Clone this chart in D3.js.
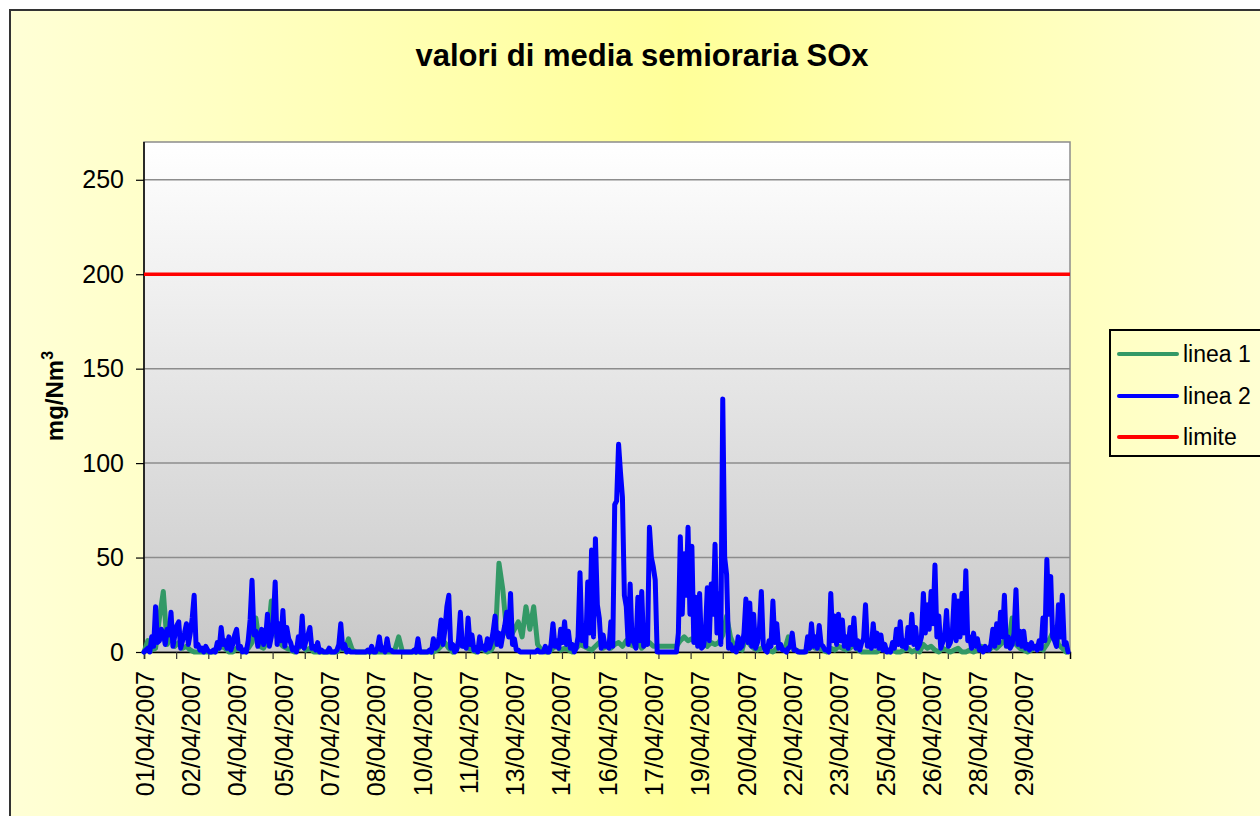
<!DOCTYPE html>
<html>
<head>
<meta charset="utf-8">
<script src="https://cdn.jsdelivr.net/npm/d3@7"></script>
<style>
  html, body { margin: 0; padding: 0; background: #ffffff; }
  svg { display: block; font-family: "Liberation Sans", Arial, sans-serif; }
</style>
</head>
<body>
<svg id="chart" width="1260" height="816"></svg>
<script>
// ---------------- DATA ----------------
const chartTitle = "valori di media semioraria SOx";
const seriesNames = ["linea 1", "linea 2", "limite"];
const totalCategories = 1440;   // 30 days of semi-hourly categories
const stepLinea1 = 6;           // linea 1 read every 3 hours
const stepLinea2 = 3;           // linea 2 read every 1.5 hours

// linea 1 (green), one value every 3 hours
const linea1 = [
  0,6,1,2,18,32,4,8,3,5,2,3,1,0,0,0,0,0,0,1,
  3,2,0,0,2,1,0,2,5,18,3,2,6,27,10,5,3,2,1,0,
  2,4,1,2,0,0,0,0,0,0,0,2,1,7,1,0,0,0,0,0,
  0,0,0,0,0,1,8,0,0,0,0,0,0,0,0,0,1,3,5,2,
  0,2,4,3,2,1,0,2,1,0,1,5,47,33,10,8,12,16,8,24,
  12,24,4,1,0,0,2,3,1,2,1,0,2,4,3,2,1,3,5,2,
  3,2,4,5,3,6,4,3,5,2,4,5,3,3,3,3,3,3,3,6,
  8,6,7,5,4,6,3,5,4,5,9,19,8,3,2,1,8,4,2,1,
  2,3,1,0,2,3,1,8,2,1,0,0,1,3,2,2,1,0,2,1,
  3,2,1,2,4,1,0,0,0,0,0,2,1,0,1,0,0,1,2,0,
  1,0,4,2,3,1,0,2,1,0,1,2,0,0,1,0,1,3,2,1,
  3,2,4,6,3,18,4,2,1,0,1,3,2,1,4,8,13,4,2,0
];

// linea 2 (blue), one value every 1.5 hours
const linea2 = [
  0,1,2,0,8,3,24,5,6,12,10,4,12,9,21,3,9,14,16,2,
  6,10,15,4,10,18,30,3,4,1,2,0,3,1,0,0,1,0,5,2,
  13,4,6,2,8,1,4,9,12,2,3,0,1,0,6,17,38,9,11,3,
  8,12,4,7,20,3,8,16,37,4,15,6,22,3,13,7,5,1,2,0,
  8,3,19,2,6,9,13,2,3,1,5,0,1,0,0,0,2,0,0,0,
  1,4,15,2,4,0,1,0,0,0,0,0,0,0,0,0,1,0,3,0,
  0,2,8,1,2,0,7,1,1,0,0,0,0,0,0,0,0,0,0,0,
  1,0,7,0,0,0,0,0,1,0,7,2,3,8,17,4,12,24,30,2,
  4,0,1,6,21,3,6,2,18,4,9,1,2,0,8,2,3,1,7,2,
  5,11,19,4,10,3,9,14,21,8,31,4,7,1,1,0,0,0,0,0,
  0,0,0,0,1,0,0,0,3,0,0,4,15,3,6,2,12,5,16,4,
  11,2,4,0,2,8,42,6,14,3,37,10,54,8,60,25,18,2,9,3,
  4,2,16,3,78,80,110,95,82,30,24,4,36,6,5,2,29,6,32,3,
  8,4,66,50,45,38,0,0,0,0,0,0,0,0,0,0,0,10,61,20,
  52,30,66,20,56,5,29,3,31,2,3,10,34,6,36,20,57,10,31,4,
  134,50,41,2,4,1,2,0,8,2,3,10,28,5,26,3,20,2,5,12,
  32,4,1,0,6,3,27,5,15,2,4,1,1,0,2,3,10,1,1,0,
  0,0,0,0,8,2,15,3,8,2,14,4,3,1,1,0,31,6,19,4,
  20,6,17,3,8,2,13,4,18,2,6,1,5,7,25,3,6,2,15,3,
  10,2,9,1,4,0,1,0,5,2,12,4,16,3,6,2,13,5,20,4,
  13,2,4,8,31,10,25,12,32,15,46,8,19,2,5,8,22,3,5,10,
  30,6,27,8,31,10,43,6,8,2,10,3,7,1,2,0,3,1,1,4,
  12,3,15,5,21,8,30,3,8,2,4,10,33,4,11,3,11,2,4,1,
  5,2,3,1,6,2,18,6,49,20,40,8,6,3,25,8,30,4,5,0
];

const limiteValue = 200;

// category axis labels (every 72 categories = 1.5 days)
const xLabels = ["01/04/2007","02/04/2007","04/04/2007","05/04/2007","07/04/2007",
  "08/04/2007","10/04/2007","11/04/2007","13/04/2007","14/04/2007","16/04/2007",
  "17/04/2007","19/04/2007","20/04/2007","22/04/2007","23/04/2007","25/04/2007",
  "26/04/2007","28/04/2007","29/04/2007"];
const xLabelInterval = 72;
const xTickInterval = 50;
const yTicks = [0, 50, 100, 150, 200, 250];
const yMax = 270;

// ---------------- LAYOUT ----------------
const svg = d3.select("#chart");
const plot = { left: 144, right: 1070, top: 142, bottom: 652 };

const defs = svg.append("defs");
const bgGrad = defs.append("linearGradient").attr("id", "bgGrad")
  .attr("x1", "0").attr("y1", "0").attr("x2", "1").attr("y2", "0");
bgGrad.append("stop").attr("offset", "0").attr("stop-color", "#ffffd6");
bgGrad.append("stop").attr("offset", "0.52").attr("stop-color", "#ffff99");
bgGrad.append("stop").attr("offset", "1").attr("stop-color", "#ffffd6");

const plotGrad = defs.append("linearGradient").attr("id", "plotGrad")
  .attr("x1", "0").attr("y1", "0").attr("x2", "0").attr("y2", "1");
plotGrad.append("stop").attr("offset", "0").attr("stop-color", "#ffffff");
plotGrad.append("stop").attr("offset", "1").attr("stop-color", "#c9c9c9");

// chart area
svg.append("rect").attr("x", 10).attr("y", 10).attr("width", 1290).attr("height", 840)
  .attr("fill", "url(#bgGrad)").attr("stroke", "#333333").attr("stroke-width", 2);

// plot area
svg.append("rect").attr("x", plot.left).attr("y", plot.top)
  .attr("width", plot.right - plot.left).attr("height", plot.bottom - plot.top)
  .attr("fill", "url(#plotGrad)").attr("stroke", "#8c8c8c").attr("stroke-width", 1.5);

const x = d3.scaleLinear().domain([0, totalCategories]).range([plot.left, plot.right]);
const y = d3.scaleLinear().domain([0, yMax]).range([plot.bottom, plot.top]);

// gridlines
svg.append("g").selectAll("line").data(yTicks.filter(d => d > 0)).join("line")
  .attr("x1", plot.left).attr("x2", plot.right)
  .attr("y1", d => y(d)).attr("y2", d => y(d))
  .attr("stroke", "#8c8c8c").attr("stroke-width", 1.5);

// y axis
const yAxis = svg.append("g").attr("transform", `translate(${plot.left},0)`)
  .call(d3.axisLeft(y).tickValues(yTicks).tickSize(8).tickPadding(12).tickSizeOuter(0));
yAxis.select(".domain").attr("stroke", "#000").attr("stroke-width", 1.5)
  .attr("d", `M0,${plot.top}V${plot.bottom}`);
yAxis.selectAll(".tick line").attr("stroke", "#000").attr("stroke-width", 1.2);
yAxis.selectAll(".tick text").attr("font-size", 25).attr("fill", "#000")
  .attr("font-family", "Liberation Sans, Arial, sans-serif");

// x axis ticks
const tickVals = d3.range(0, totalCategories + 1, xTickInterval);
const xAxis = svg.append("g").attr("transform", `translate(0,${plot.bottom})`)
  .call(d3.axisBottom(x).tickValues(tickVals).tickSize(7).tickFormat(""));
xAxis.select(".domain").attr("stroke", "#000").attr("stroke-width", 1.5);
xAxis.selectAll(".tick line").attr("stroke", "#333").attr("stroke-width", 1.2);

// x labels
svg.append("g").selectAll("text").data(xLabels).join("text")
  .attr("transform", (d, i) => `translate(${x(i * xLabelInterval) + 1},671) rotate(-90)`)
  .attr("text-anchor", "end").attr("dy", "0.35em")
  .attr("font-size", 25).attr("fill", "#000")
  .text(d => d);

// series
const pts1 = linea1.map((v, k) => [k * stepLinea1, v]);
const pts2 = linea2.map((v, k) => [k * stepLinea2, v]);
const line = d3.line().x(d => x(d[0])).y(d => y(d[1]));

const clip = defs.append("clipPath").attr("id", "plotClip");
clip.append("rect").attr("x", plot.left - 3).attr("y", plot.top)
  .attr("width", plot.right - plot.left + 6).attr("height", plot.bottom - plot.top + 4);

const series = svg.append("g").attr("clip-path", "url(#plotClip)");
series.append("path").datum(pts1).attr("d", line)
  .attr("fill", "none").attr("stroke", "#339966").attr("stroke-width", 5)
  .attr("stroke-linejoin", "round").attr("stroke-linecap", "round");
series.append("path").datum(pts2).attr("d", line)
  .attr("fill", "none").attr("stroke", "#0000ff").attr("stroke-width", 5)
  .attr("stroke-linejoin", "round").attr("stroke-linecap", "round");
series.append("path").datum([[0, limiteValue], [totalCategories, limiteValue]]).attr("d", line)
  .attr("fill", "none").attr("stroke", "#ff0000").attr("stroke-width", 3.5);

// title
svg.append("text").attr("x", 642).attr("y", 66).attr("text-anchor", "middle")
  .attr("font-size", 31).attr("font-weight", "bold").attr("fill", "#000")
  .text(chartTitle);

// y axis title
const yt = svg.append("text").attr("transform", "translate(63,396) rotate(-90)")
  .attr("text-anchor", "middle").attr("font-size", 24).attr("font-weight", "bold").attr("fill", "#000");
yt.append("tspan").text("mg/Nm");
yt.append("tspan").attr("dy", "-0.6em").attr("font-size", 16).text("3");

// legend
const legendColors = ["#339966", "#0000ff", "#ff0000"];
const lg = svg.append("g");
lg.append("rect").attr("x", 1110).attr("y", 330).attr("width", 170).attr("height", 126)
  .attr("fill", "none").attr("stroke", "#000").attr("stroke-width", 2);
const legendY = [354, 396, 437];
seriesNames.forEach((name, i) => {
  lg.append("line").attr("x1", 1119).attr("x2", 1177).attr("y1", legendY[i]).attr("y2", legendY[i])
    .attr("stroke", legendColors[i]).attr("stroke-width", 4).attr("stroke-linecap", "round");
  lg.append("text").attr("x", 1183).attr("y", legendY[i]).attr("dy", "0.35em")
    .attr("font-size", 23).attr("fill", "#000").text(name);
});
</script>
</body>
</html>
